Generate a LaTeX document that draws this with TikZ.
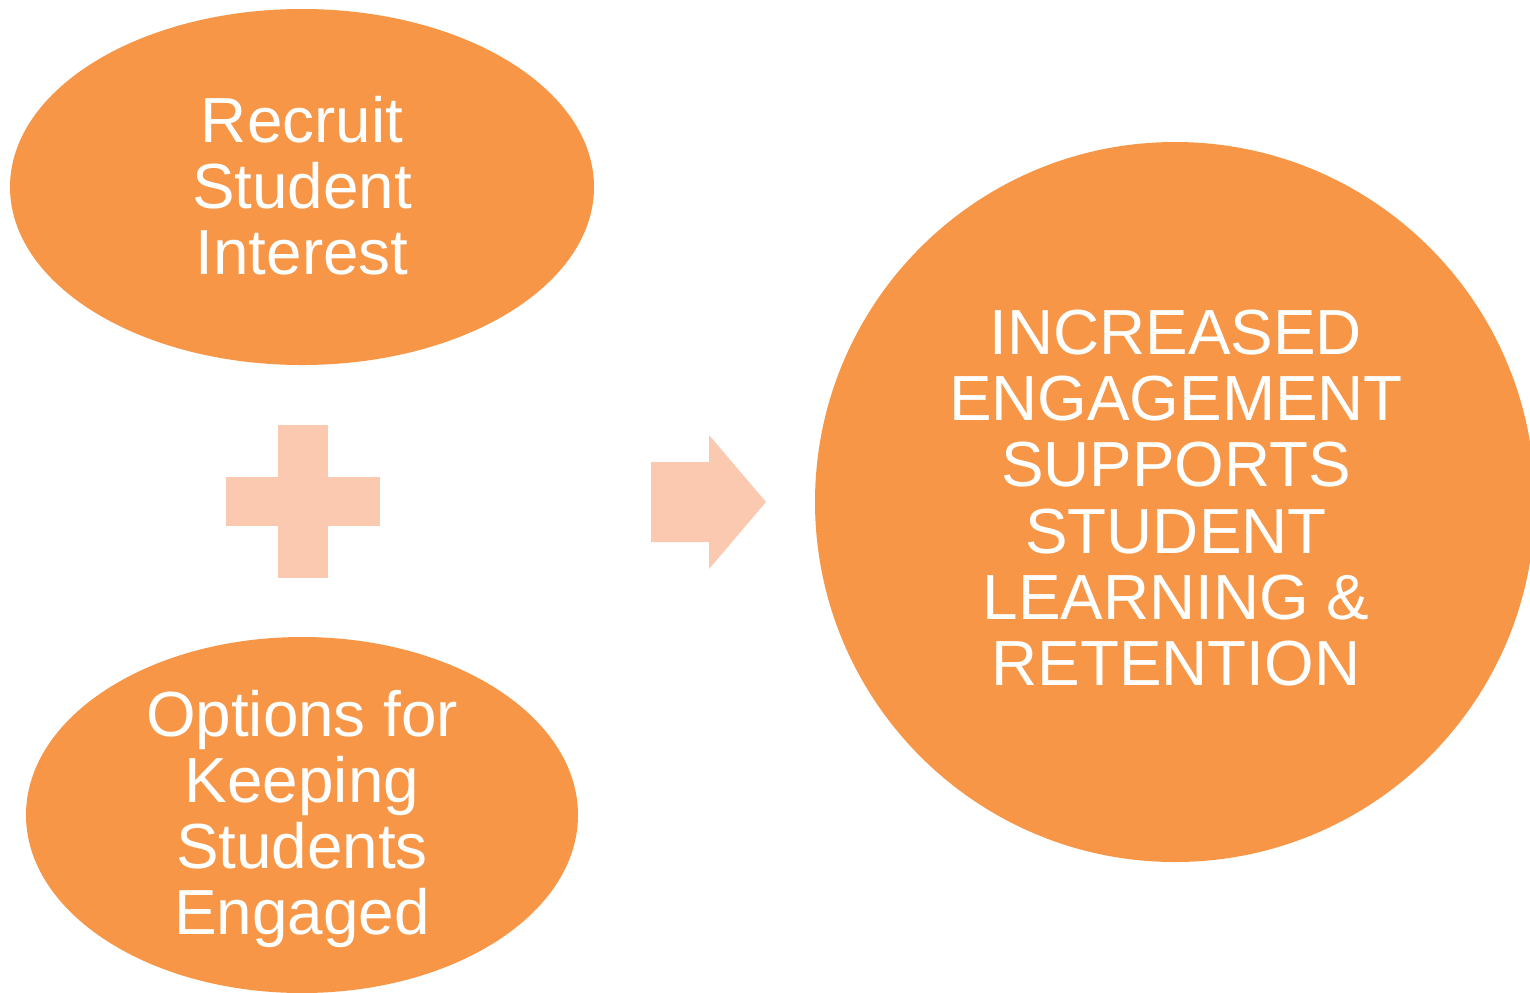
\documentclass[tikz,border=0pt]{standalone}
\usepackage{fontspec}
\setmainfont{Liberation Sans}
\usepackage{xcolor}
\usetikzlibrary{shapes,positioning,calc}
\definecolor{boxorange}{HTML}{F79646}
\definecolor{lightorange}{HTML}{FAC9B0}
\tikzset{
    blob/.style={fill=boxorange, draw=none, text=white, align=center,
        font=\fontsize{36.3}{37.6}\selectfont},
    sign/.style={fill=lightorange, draw=none}
}

\begin{document}
\begin{tikzpicture}[x=0.02cm, y=-0.02cm]
    \useasboundingbox (0,0) rectangle (1530,992);
    \begin{scope}
    \clip (0,0) rectangle (1530,992);
    
    \fill[boxorange] (302,187) ellipse [x radius=292, y radius=178];
    \node[blob] (recruit) at (302,186) {Recruit\\Student\\Interest};
    
    \fill[boxorange] (302,815) ellipse [x radius=276, y radius=178];
    \node[blob] (options) at (302,819) {Options for\\Keeping\\Students\\Engaged};
    
    \fill[boxorange] (1175,502) circle [radius=360];
    \node[blob] (result) at (1176,498) {INCREASED\\ENGAGEMENT\\SUPPORTS\\STUDENT\\LEARNING \&\\RETENTION};
    \end{scope}
    
    % plus sign
    \fill[sign] (278,425) rectangle (328,578);
    \fill[sign] (226,477) rectangle (380,526);
    
    % arrow
    \fill[sign] (651,462) -- (709,462) -- (709,435) -- (766,502) -- (709,569) -- (709,542) -- (651,542) -- cycle;
\end{tikzpicture}
\end{document}
